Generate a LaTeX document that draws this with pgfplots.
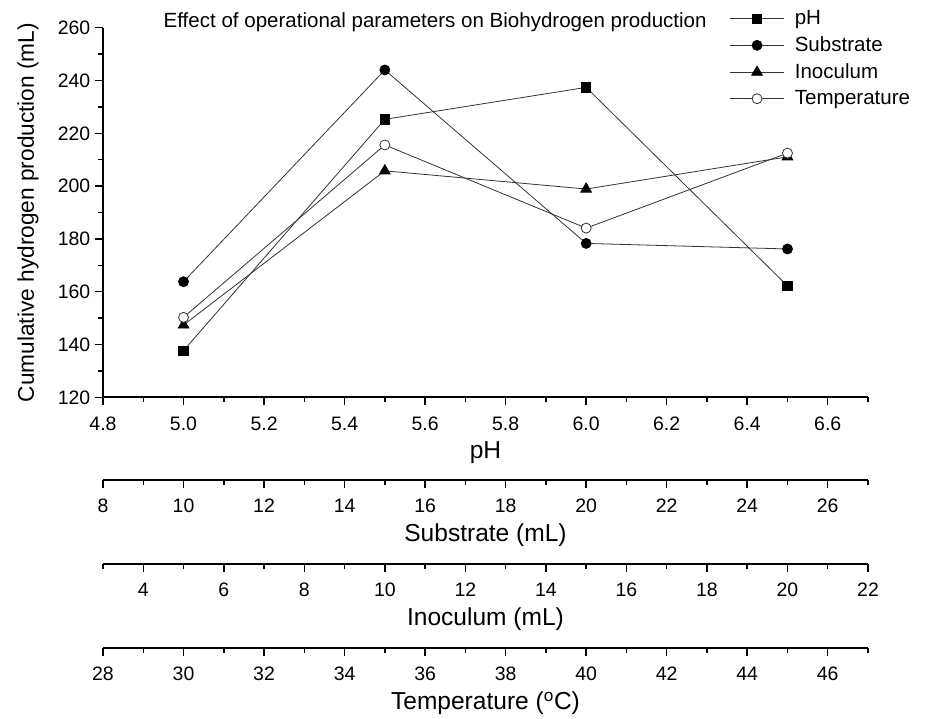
\documentclass[border=0pt]{standalone}
\usepackage{fontspec}
\setmainfont{Liberation Sans}
\usepackage{pgfplots}
\pgfplotsset{compat=1.18}

\pgfplotsset{
  refaxis/.style={
    scale only axis,
    width=573.75pt,
    axis line style={line width=1.4pt},
    tick style={line width=1.1pt, black},
    tick align=outside,
    major tick length=6pt,
    minor tick length=3.5pt,
    tick label style={font=\fontsize{14.6}{16}\selectfont},
    label style={font=\fontsize{18.4}{21}\selectfont},
    /pgf/number format/assume math mode=true,
    xticklabel style={yshift=-5pt},
    xlabel style={at={(axis description cs:0.5,0)}, anchor=center, yshift=-41.5pt},
  },
  secaxis/.style={
    refaxis,
    height=1pt,
    ymin=0, ymax=1,
    axis x line*=bottom,
    axis y line=none,
  },
  ser/.style={line width=0.6pt, black!80, mark options={solid, line width=0.6pt, black}},
}

\begin{document}
\begin{tikzpicture}
\useasboundingbox (-77.25pt,-240.5pt) rectangle (618.75pt,298pt);

\begin{axis}[
    refaxis,
    height=277.2pt,
    at={(0pt,0pt)}, anchor=south west,
    clip=false,
    xmin=4.8, xmax=6.7,
    ymin=120, ymax=260,
    axis x line*=bottom,
    axis y line*=left,
    xtick={4.8,5.0,5.2,5.4,5.6,5.8,6.0,6.2,6.4,6.6},
    minor xtick={4.9,5.1,5.3,5.5,5.7,5.9,6.1,6.3,6.5,6.7},
    ytick={120,140,160,180,200,220,240,260},
    minor ytick={130,150,170,190,210,230,250},
    xticklabel style={/pgf/number format/.cd, fixed, fixed zerofill, precision=1},
    xlabel={pH},
    ylabel={Cumulative hydrogen production (mL)},
    ylabel style={at={(axis description cs:-0.098,0.5)}, anchor=center, font=\fontsize{17}{19}\selectfont},
    legend style={at={(axis cs:6.345,268.8)}, anchor=north west, draw=none, fill=none,
        font=\fontsize{15.4}{17}\selectfont, row sep=2.5pt,
        nodes={inner sep=2.5pt}},
    legend cell align=left,
    legend image code/.code={
        \draw[mark repeat=2, mark phase=2] plot coordinates {(0pt,0pt) (20.5pt,0pt) (41pt,0pt)};
        \path (46pt,0pt);},
]
% pH
\addplot[ser, mark=square*, mark size=3.5pt] coordinates {
    (5.0, 137.7) (5.5, 225.3) (6.0, 237.4) (6.5, 162.2)
};
\addlegendentry{pH}
% Substrate
\addplot[ser, mark=*, mark size=3.75pt] coordinates {
    (5.0, 163.8) (5.5, 244.0) (6.0, 178.3) (6.5, 176.2)
};
\addlegendentry{Substrate}
% Inoculum
\addplot[ser, mark=triangle*, mark size=4.6pt] coordinates {
    (5.0, 147.4) (5.5, 205.8) (6.0, 198.9) (6.5, 211.1)
};
\addlegendentry{Inoculum}
% Temperature
\addplot[ser, mark=*, mark size=3.75pt, mark options={fill=white}] coordinates {
    (5.0, 150.3) (5.5, 215.6) (6.0, 184.1) (6.5, 212.5)
};
\addlegendentry{Temperature}

\node[font=\fontsize{15.4}{17}\selectfont] at (axis cs:5.625,262.2)
    {Effect of operational parameters on Biohydrogen production};
\end{axis}

% substrate axis
\begin{axis}[secaxis, at={(0pt,-61.9pt)}, anchor=south west,
    xmin=8, xmax=27,
    xtick={8,10,...,26}, minor xtick={9,11,...,27},
    xlabel={Substrate (mL)}]
\end{axis}

% inoculum axis
\begin{axis}[secaxis, at={(0pt,-124.9pt)}, anchor=south west,
    xmin=3, xmax=22,
    xtick={4,6,...,22}, minor xtick={3,5,...,21},
    xlabel={Inoculum (mL)}]
\end{axis}

% temperature axis
\begin{axis}[secaxis, at={(0pt,-187.9pt)}, anchor=south west,
    xmin=28, xmax=47,
    xtick={28,30,...,46}, minor xtick={29,31,...,47},
    xlabel={Temperature (\textsuperscript{o}C)}]
\end{axis}
\end{tikzpicture}
\end{document}
